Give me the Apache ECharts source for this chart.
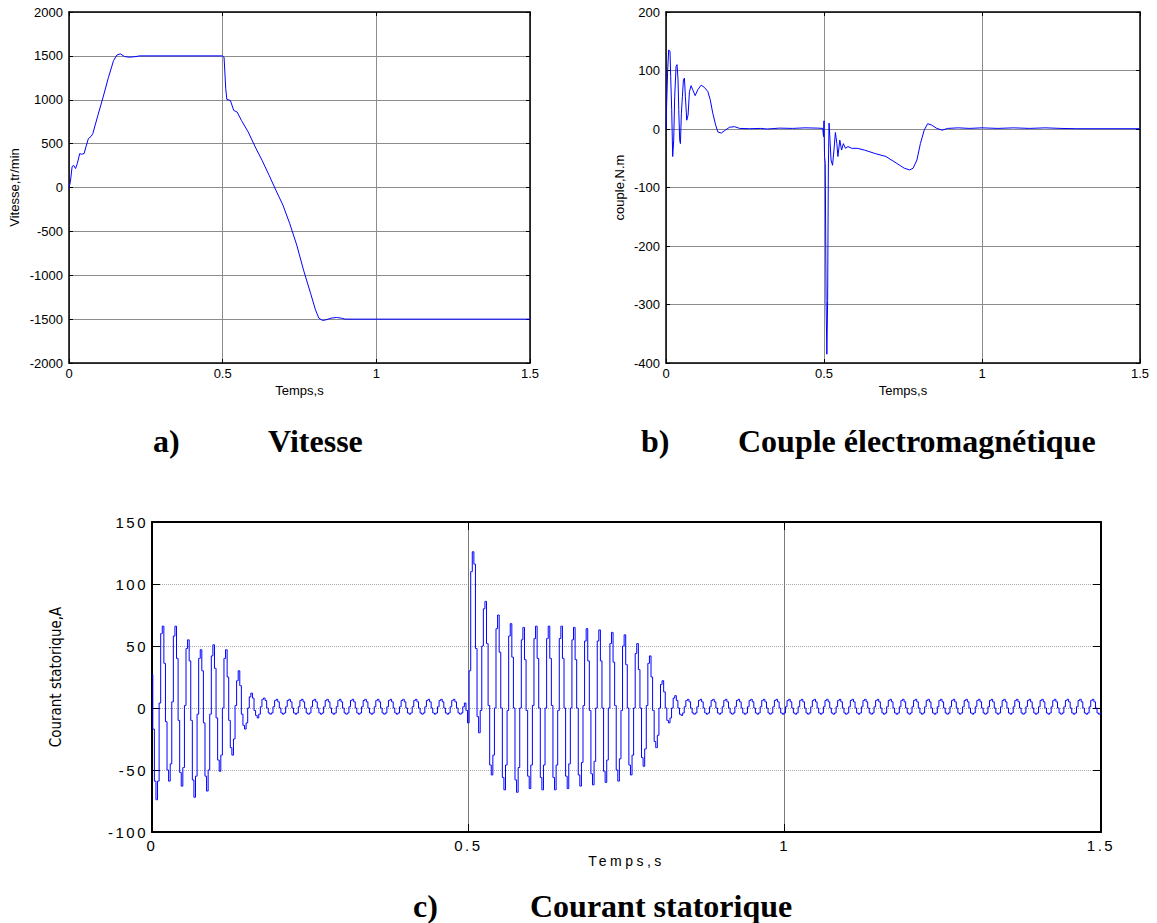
<!DOCTYPE html>
<html>
<head>
<meta charset="utf-8">
<script src="https://cdn.jsdelivr.net/npm/echarts@6/dist/echarts.min.js"></script>
<style>
html,body{margin:0;padding:0;background:#fff;}
#main{width:1157px;height:923px;}
</style>
</head>
<body>
<div id="main"></div>
<script>
// ---------- data ----------
const timeTicks = [0, 0.5, 1, 1.5];
const speedTicks = [-2000, -1500, -1000, -500, 0, 500, 1000, 1500, 2000];
const torqueTicks = [-400, -300, -200, -100, 0, 100, 200];
const currentTicks = [-100, -50, 0, 50, 100, 150];

// (a) Vitesse
const speedTime = [0, 0.0045, 0.010, 0.0146, 0.0213, 0.027, 0.0348, 0.040, 0.049, 0.055, 0.063, 0.072, 0.0775,
  0.094, 0.111, 0.128, 0.145, 0.156, 0.167, 0.181, 0.196, 0.218, 0.229, 0.4989, 0.5045, 0.510, 0.5135, 0.525,
  0.536, 0.547, 0.561, 0.583, 0.606, 0.628, 0.651, 0.673, 0.696, 0.718, 0.741, 0.763, 0.786, 0.802, 0.813,
  0.825, 0.836, 0.853, 0.870, 0.8865, 0.898, 1.5];
const speedValue = [0, 64, 235, 254, 216, 273, 386, 379, 386, 462, 557, 583, 614,
  822, 1030, 1250, 1447, 1510, 1523, 1492, 1485, 1492, 1500, 1500, 1485, 1125, 1004, 992,
  879, 860, 765, 633, 462, 311, 140, -30, -200, -409, -655, -939, -1205, -1394, -1489,
  -1515, -1508, -1489, -1481, -1489, -1500, -1500];

// (b) Couple
const torqueTime = [0, 0.0021, 0.0053, 0.0085, 0.0127, 0.0148, 0.018, 0.0212, 0.0244, 0.0275, 0.0318, 0.035,
  0.0381, 0.0403, 0.0434, 0.0456, 0.0487, 0.0519, 0.0551, 0.0583, 0.0614, 0.0657, 0.0699, 0.0742, 0.0794,
  0.0847, 0.0922, 0.1006, 0.1112, 0.1218, 0.1324, 0.140, 0.148, 0.157, 0.164, 0.175, 0.185, 0.201, 0.217,
  0.233, 0.265, 0.30, 0.32, 0.36, 0.40, 0.44, 0.48, 0.496, 0.4985, 0.5, 0.5017, 0.5040, 0.5065, 0.5090,
  0.5115, 0.5138, 0.5160, 0.519, 0.5223, 0.527, 0.5315, 0.536, 0.5407, 0.544, 0.55, 0.5556, 0.5613, 0.568,
  0.576, 0.5876, 0.605, 0.628, 0.662, 0.696, 0.731, 0.754, 0.771, 0.782, 0.794, 0.805, 0.817, 0.828, 0.8396,
  0.857, 0.874, 0.891, 0.925, 0.96, 1.0, 1.05, 1.1, 1.15, 1.2, 1.25, 1.3, 1.5];
const torqueValue = [0, 44, 101, 135, 133, 90, 33, -47, -19, 55, 107, 110,
  84, 33, -19, -25, 27, 55, 84, 87, 55, 15, 24, 64, 74,
  67, 57, 67, 75, 71, 64, 50, 27, 7, -5, -7, -3, 3, 4,
  1, 0.5, 1, 0, 1.5, 1, 2, 1.5, 1, -13, 14, -47, -59, -293, -385,
  -293, -65, 10, -19, -53, -62, -36, -6, -25, -47, -19, -36, -25, -33,
  -30, -33, -33, -36, -42, -47, -59, -67, -70, -67, -53, -25, -2, 9, 7,
  1, -2, 1, 2, 1, 2, 1, 2, 1, 2, 1, 0.5, 0.5];

// (c) Courant statorique, sampled every currentStep seconds from t = 0
const currentStep = 0.0025;
const currentStartup = [27, -17, -59,
  -74, -59, 4, 60, 66, 36, -11, -50,
  -59, -45, 5, 58, 66, 40, -10, -52,
  -63, -48, 2, 48, 55, 38, -10, -58,
  -72, -55, -5, 40, 47, 30, -12, -55,
  -67, -50, -5, 42, 51, 32, -8, -42,
  -51, -38, 0, 40, 47, 25, -10, -32,
  -38, -25, 2, 22, 30, 18, -5, -14,
  -17, -12, 0, 9, 12, 8, -2, -6,
  -8, -5, 1, 7, 8, 6, 0, -4];
const currentRipple1 = [
  -5, -4, 1, 6, 7, 5, 0, -4,  -5, -4, 1, 6, 7, 5, 0, -4,  -5, -4, 1, 6, 7, 5, 0, -4,
  -5, -4, 1, 6, 7, 5, 0, -4,  -5, -4, 1, 6, 7, 5, 0, -4,  -5, -4, 1, 6, 7, 5, 0, -4,
  -5, -4, 1, 6, 7, 5, 0, -4,  -5, -4, 1, 6, 7, 5, 0, -4,  -5, -4, 1, 6, 7, 5, 0, -4,
  -5, -4, 1, 6, 7, 5, 0, -4,  -5, -4, 1, 6, 7, 5, 0, -4,  -5, -4, 1, 6, 7, 5, 0, -4,
  -5, -4, 1, 6, 7, 5, 0, -4,  -5, -4, 1, 6, 7, 5, 0, -4,  -5, -4, 1, 6, 7, 5, 0, -4];
const currentReversal = [
  -5, -4, 1, 4, -2, -12, 30, 110, 126, 116, 48, -7, -20, -2, 50, 80,
  86, 52, 2, -46, -54, -38, 0, 64,
  75, 45, 0, -56, -66, -46, -2, 58,
  68, 41, 0, -58, -68, -48, 0, 55,
  65, 39, -2, -55, -65, -46, 2, 56,
  66, 40, 0, -56, -66, -46, 0, 56,
  66, 40, 2, -56, -66, -46, -2, 56,
  66, 40, 0, -55, -65, -45, 0, 55,
  65, 39, 0, -54, -63, -44, 2, 54,
  64, 38, -2, -53, -62, -43, 0, 54,
  63, 38, 0, -51, -60, -42, 0, 52,
  61, 37, 2, -50, -59, -41, -2, 50,
  59, 35, 0, -46, -54, -38, 0, 44,
  52, 31, 0, -40, -47, -33, 2, 36,
  42, 25, -2, -27, -32, -22, 0, 19,
  22, 13, 0, -10, -12, -8, 0, 8,
  10, 6, 0, -5, -6, -4, 1, 6];
const currentRipple2 = [
  7, 5, 0, -4, -5, -4, 1, 6,  7, 5, 0, -4, -5, -4, 1, 6,  7, 5, 0, -4, -5, -4, 1, 6,  7, 5, 0, -4, -5, -4, 1, 6,
  7, 5, 0, -4, -5, -4, 1, 6,  7, 5, 0, -4, -5, -4, 1, 6,  7, 5, 0, -4, -5, -4, 1, 6,  7, 5, 0, -4, -5, -4, 1, 6,
  7, 5, 0, -4, -5, -4, 1, 6,  7, 5, 0, -4, -5, -4, 1, 6,  7, 5, 0, -4, -5, -4, 1, 6,  7, 5, 0, -4, -5, -4, 1, 6,
  7, 5, 0, -4, -5, -4, 1, 6,  7, 5, 0, -4, -5, -4, 1, 6,  7, 5, 0, -4, -5, -4, 1, 6,  7, 5, 0, -4, -5, -4, 1, 6,
  7, 5, 0, -4, -5, -4, 1, 6,  7, 5, 0, -4, -5, -4, 1, 6,  7, 5, 0, -4, -5, -4, 1, 6,  7, 5, 0, -4, -5, -4, 1, 6,
  7, 5, 0, -4, -5, -4, 1, 6,  7, 5, 0, -4, -5, -4, 1, 6,  7, 5, 0, -4, -5, -4, 1, 6,  7, 5, 0, -4, -5, -4, 1, 6,
  7, 5, 0, -4, -5, -4, 1, 6,  7, 5, 0, -4, -5, -4, 1, 6,  7, 5, 0, -4, -5, -4, 1, 6,  7, 5, 0, -4, -5, -4, 1, 6,
  7, 5, 0, -4, -5, -4, 1, 6,  7, 5, 0, -4, -5, -4, 1, 6,  7, 5, 0, -4, -5, -4, 1, 6,  7, 5, 0, -4, -5, -4, 1, 6,
  7, 5, 0, -4, -5, -4];

// ---------- build ----------
const zip = (xs, ys) => xs.map((x, i) => [x, ys[i]]);
const speedData = zip(speedTime, speedValue);
const torqueData = zip(torqueTime, torqueValue);
const currentValues = [].concat(currentStartup, currentRipple1, currentReversal, currentRipple2);
const currentData = currentValues.map((v, i) => [+(i * currentStep).toFixed(4), v]);

const SANS = '"Liberation Sans", Arial, sans-serif';
const SERIF = '"Liberation Serif", "Times New Roman", serif';
const NARROW = '"Liberation Sans Narrow", "DejaVu Sans Condensed", "Arial Narrow", sans-serif';
const BLUE = '#0000ff';

function rangeOf(ticks) {
  return { min: ticks[0], max: ticks[ticks.length - 1], interval: ticks[1] - ticks[0] };
}
const fmt = v => String(v);

function mainX(grid, ticks, o) {
  const r = rangeOf(ticks);
  return {
    type: 'value', gridIndex: grid, position: 'bottom', min: r.min, max: r.max, interval: r.interval,
    axisLine: { onZero: false, lineStyle: { color: '#000', width: o.lw } },
    axisTick: { inside: true, length: o.tick, lineStyle: { color: '#000', width: 1 } },
    axisLabel: { color: '#000', fontFamily: o.font, fontSize: o.fs, margin: o.lm, formatter: fmt },
    splitLine: { show: true, lineStyle: { color: o.vgrid, width: 1, type: 'solid' } },
    name: 'Temps,s', nameLocation: 'middle', nameGap: o.ng,
    nameTextStyle: { color: '#000', fontFamily: o.font, fontSize: o.nfs }
  };
}
function topX(grid, ticks, o) {
  const r = rangeOf(ticks);
  return {
    type: 'value', gridIndex: grid, position: 'top', min: r.min, max: r.max, interval: r.interval,
    axisLine: { onZero: false, lineStyle: { color: '#000', width: o.lw } },
    axisTick: { inside: true, length: o.tick, lineStyle: { color: '#000', width: 1 } },
    axisLabel: { show: false }, splitLine: { show: false }
  };
}
function mainY(grid, ticks, name, o) {
  const r = rangeOf(ticks);
  return {
    type: 'value', gridIndex: grid, position: 'left', min: r.min, max: r.max, interval: r.interval,
    axisLine: { onZero: false, show: true, lineStyle: { color: '#000', width: o.lw } },
    axisTick: { show: true, inside: true, length: o.tick, lineStyle: { color: '#000', width: 1 } },
    axisLabel: { color: '#000', fontFamily: o.font, fontSize: o.fs, margin: o.ym, formatter: fmt },
    splitLine: { show: true, lineStyle: { color: o.hgrid, width: 1, type: o.htype } },
    name: name, nameLocation: 'middle', nameGap: o.yng,
    nameTextStyle: { color: '#000', fontFamily: o.yfont, fontSize: o.yfs }
  };
}
function rightY(grid, ticks, o) {
  const r = rangeOf(ticks);
  return {
    type: 'value', gridIndex: grid, position: 'right', min: r.min, max: r.max, interval: r.interval,
    axisLine: { onZero: false, show: true, lineStyle: { color: '#000', width: o.lw } },
    axisTick: { show: true, inside: true, length: o.tick, lineStyle: { color: '#000', width: 1 } },
    axisLabel: { show: false }, splitLine: { show: false }
  };
}

const styleAB = { lw: 1.5, tick: 4, font: SANS, fs: 13, nfs: 13, lm: 4, ng: 21, vgrid: '#8c8c8c', hgrid: '#8c8c8c', htype: 'solid', ym: 6, yfont: SANS, yfs: 13 };
const styleA = Object.assign({}, styleAB, { yng: 48 });
const styleB = Object.assign({}, styleAB, { yng: 40 });
const styleC = { lw: 2, tick: 8, font: SANS, fs: 15, nfs: 14, lm: 6, ng: 19, vgrid: '#7a7a7a', hgrid: '#a8a8a8', htype: 'dotted', ym: 4, yfont: NARROW, yfs: 15, yng: 89 };

function titleText(x, y, text) {
  return { type: 'text', x: x, y: y, silent: true,
    style: { text: text, fill: '#000', fontFamily: SERIF, fontWeight: 'bold', fontSize: 32, verticalAlign: 'middle', align: 'left' } };
}

const option = {
  animation: false,
  backgroundColor: '#fff',
  grid: [
    { left: 69, top: 12, width: 461, height: 351, containLabel: false },
    { left: 666, top: 12, width: 474, height: 351, containLabel: false },
    { left: 152, top: 522, width: 949, height: 310, containLabel: false }
  ],
  xAxis: [
    mainX(0, timeTicks, styleA), topX(0, timeTicks, styleA),
    mainX(1, timeTicks, styleB), topX(1, timeTicks, styleB),
    mainX(2, timeTicks, styleC), topX(2, timeTicks, styleC)
  ],
  yAxis: [
    mainY(0, speedTicks, 'Vitesse,tr/min', styleA), rightY(0, speedTicks, styleA),
    mainY(1, torqueTicks, 'couple,N.m', styleB), rightY(1, torqueTicks, styleB),
    mainY(2, currentTicks, 'Courant statorique,A', styleC), rightY(2, currentTicks, styleC)
  ],
  series: [
    { type: 'line', name: 'Vitesse', xAxisIndex: 0, yAxisIndex: 0, data: speedData, showSymbol: false,
      lineStyle: { color: BLUE, width: 1 }, itemStyle: { color: BLUE }, z: 3 },
    { type: 'line', name: 'Couple', xAxisIndex: 2, yAxisIndex: 2, data: torqueData, showSymbol: false,
      lineStyle: { color: BLUE, width: 1 }, itemStyle: { color: BLUE }, z: 3 },
    { type: 'line', name: 'Courant', xAxisIndex: 4, yAxisIndex: 4, data: currentData, showSymbol: false, step: 'middle',
      lineStyle: { color: BLUE, width: 1 }, itemStyle: { color: BLUE }, z: 3 }
  ],
  graphic: [
    titleText(153, 441, 'a)'), titleText(268, 441, 'Vitesse'),
    titleText(641, 441, 'b)'), titleText(738, 441, 'Couple électromagnétique'),
    titleText(413, 906, 'c)'), titleText(530, 906, 'Courant statorique')
  ]
};

const chart = echarts.init(document.getElementById('main'), null, { renderer: 'svg', width: 1157, height: 923 });
chart.setOption(option);

function spaceChartC() {
  document.querySelectorAll('#main svg text').forEach(function (el) {
    const r = el.getBoundingClientRect();
    const t = el.textContent;
    if (r.top > 505 && r.bottom < 880 && t !== 'Courant statorique,A') {
      el.style.letterSpacing = (t === 'Temps,s') ? '3.5px' : '2.5px';
    }
  });
}
spaceChartC();
chart.on('finished', spaceChartC);
</script>
</body>
</html>
